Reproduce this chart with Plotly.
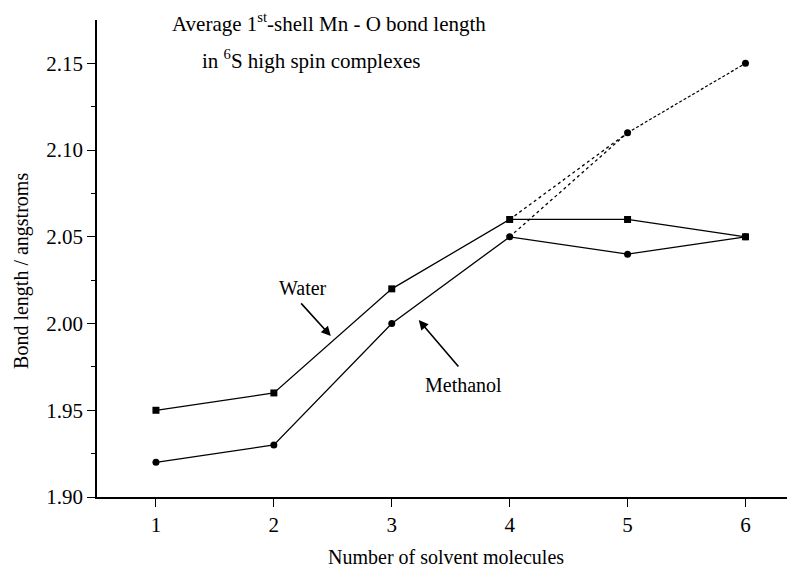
import plotly.graph_objects as go

n_solvent = [1, 2, 3, 4, 5, 6]
water = [1.95, 1.96, 2.02, 2.06, 2.06, 2.05]
methanol = [1.92, 1.93, 2.00, 2.05, 2.04, 2.05]
alt_n = [5, 6]
alt_bond = [2.11, 2.15]

x_ticks = [1, 2, 3, 4, 5, 6]
y_ticks = [1.90, 1.95, 2.00, 2.05, 2.10, 2.15]
y_tick_text = ["1.90", "1.95", "2.00", "2.05", "2.10", "2.15"]

FONT = "Liberation Serif, Times New Roman, serif"

fig = go.Figure()

# dotted extensions from n=4 to alternate n=5 point
fig.add_trace(go.Scatter(x=[n_solvent[3], alt_n[0]], y=[water[3], alt_bond[0]],
                         mode="lines", line=dict(color="black", width=1.3, dash="dot"),
                         showlegend=False, hoverinfo="skip"))
fig.add_trace(go.Scatter(x=[n_solvent[3], alt_n[0]], y=[methanol[3], alt_bond[0]],
                         mode="lines", line=dict(color="black", width=1.3, dash="dot"),
                         showlegend=False, hoverinfo="skip"))
fig.add_trace(go.Scatter(x=alt_n, y=alt_bond, mode="lines+markers",
                         line=dict(color="black", width=1.2, dash="3px,2px"),
                         marker=dict(symbol="circle", size=7, color="black"),
                         showlegend=False))

fig.add_trace(go.Scatter(x=n_solvent, y=water, mode="lines+markers", name="Water",
                         line=dict(color="black", width=1.3),
                         marker=dict(symbol="square", size=7, color="black"),
                         showlegend=False))
fig.add_trace(go.Scatter(x=n_solvent, y=methanol, mode="lines+markers", name="Methanol",
                         line=dict(color="black", width=1.3),
                         marker=dict(symbol="circle", size=7, color="black"),
                         showlegend=False))

annotations = [
    dict(x=2.483, y=1.9928, ax=2.22, ay=2.0125, xref="x", yref="y", axref="x", ayref="y",
         text="", showarrow=True, arrowhead=2, arrowsize=1.2, arrowwidth=1.6, arrowcolor="black"),
    dict(x=2.246, y=2.0205, xref="x", yref="y", text="Water", showarrow=False,
         font=dict(family=FONT, size=20, color="black")),
    dict(x=3.229, y=2.002, ax=3.576, ay=1.9744, xref="x", yref="y", axref="x", ayref="y",
         text="", showarrow=True, arrowhead=2, arrowsize=1.2, arrowwidth=1.6, arrowcolor="black"),
    dict(x=3.61, y=1.9646, xref="x", yref="y", text="Methanol", showarrow=False,
         font=dict(family=FONT, size=20, color="black")),
    dict(x=1.119, y=2.1734, xref="x", yref="y", xanchor="left", yanchor="middle",
         text="Average 1<sup>st</sup>-shell Mn - O bond length", showarrow=False,
         font=dict(family=FONT, size=21, color="black")),
    dict(x=1.373, y=2.152, xref="x", yref="y", xanchor="left", yanchor="middle",
         text="in <sup>6</sup>S high spin complexes", showarrow=False,
         font=dict(family=FONT, size=21, color="black")),
    dict(x=0.5, y=-0.126, xref="paper", yref="paper", xanchor="center", yanchor="middle",
         text="Number of solvent molecules", showarrow=False,
         font=dict(family=FONT, size=20, color="black")),
    dict(x=-0.1074, y=0.474, xref="paper", yref="paper", xanchor="center", yanchor="middle",
         text="Bond length / angstroms", textangle=-90, showarrow=False,
         font=dict(family=FONT, size=20, color="black")),
]

# page body has an 8px default margin; shrink the figure so the plot lands where the reference has it
fig.update_layout(
    width=787, height=561,
    margin=dict(l=89, r=0, t=12, b=72),
    paper_bgcolor="white", plot_bgcolor="white",
    font=dict(family=FONT, size=21, color="black"),
    annotations=annotations,
    xaxis=dict(range=[0.5, 6.42], tickvals=x_ticks, ticks="outside", ticklen=8,
               tickwidth=1.3, tickcolor="black", showline=True, linecolor="black",
               linewidth=1.6, showgrid=False, zeroline=False, automargin=False,
               tickfont=dict(family=FONT, size=21)),
    yaxis=dict(range=[1.90, 2.175], tickvals=y_ticks, ticktext=y_tick_text,
               ticks="outside", ticklen=8, tickwidth=1.3, tickcolor="black",
               showline=True, linecolor="black", linewidth=1.6, showgrid=False,
               zeroline=False, automargin=False, tickfont=dict(family=FONT, size=21),
               minor=dict(tickvals=[1.925, 1.975, 2.025, 2.075, 2.125], ticks="outside",
                          ticklen=4, tickwidth=1.2, tickcolor="black", showgrid=False)),
)

fig.write_html("out.html")
